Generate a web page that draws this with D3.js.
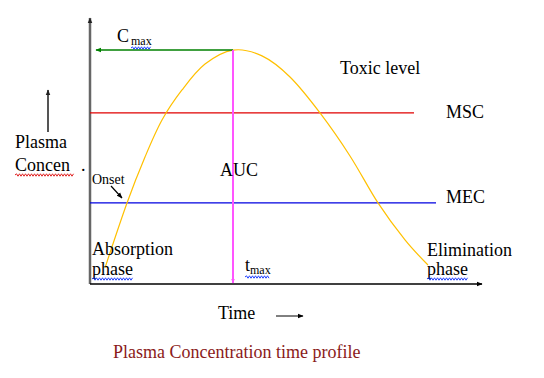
<!DOCTYPE html>
<html><head><meta charset="utf-8">
<script src="https://cdn.jsdelivr.net/npm/d3@7"></script>
<style>
html,body{margin:0;padding:0;background:#fff;}
svg text{font-family:"Liberation Serif","Times New Roman",serif;}
</style></head>
<body><svg id="c" width="544" height="378"></svg>
<script>
// Data (arbitrary units: time 0-100, concentration 0-100)
const time = [3.75, 9.25, 13.75, 18, 23, 28.75, 35.75, 43, 50, 57.5, 65, 72, 78.75, 84.5];
const conc = [6.1, 30.7, 48.1, 62.1, 73.5, 83.3, 88.6, 86.4, 78.4, 64.8, 48.5, 30.7, 16.7, 7.2];
const levelNames = ["MSC", "MEC"];
const levelValues = [64.8, 30.7];
const levelEnds = [81, 86.5];
const cmax = 88.6, tmax = 35.75;

const svg = d3.select("#c");
const x = d3.scaleLinear().domain([0, 100]).range([90, 490]);
const y = d3.scaleLinear().domain([0, 100]).range([284, 20]);

const defs = svg.append("defs");
function marker(id, color, size) {
  defs.append("marker").attr("id", id).attr("viewBox", "0 -5 10 10")
    .attr("refX", 9).attr("refY", 0).attr("markerWidth", size).attr("markerHeight", size)
    .attr("markerUnits", "userSpaceOnUse").attr("orient", "auto")
    .append("path").attr("d", "M0,-4L10,0L0,4Z").attr("fill", color);
}
marker("ablack", "#000", 6);
marker("agreen", "#008000", 6);
marker("apink", "#ff55ff", 5);
marker("agray", "#222", 6);

// axes
svg.append("line").attr("x1", x(0)).attr("x2", x(0)).attr("y1", y(0)).attr("y2", y(100) - 2)
  .attr("stroke", "#666").attr("stroke-width", 2.5).attr("marker-end", "url(#agray)");
svg.append("line").attr("x1", x(0)).attr("x2", x(98)).attr("y1", y(0)).attr("y2", y(0))
  .attr("stroke", "#000").attr("stroke-width", 1.5).attr("marker-end", "url(#ablack)");

// level lines
const levelColors = ["#e00000", "#0000e0"];
levelValues.forEach((v, i) => {
  svg.append("line").attr("x1", x(0)).attr("x2", x(levelEnds[i])).attr("y1", y(v)).attr("y2", y(v))
    .attr("stroke", levelColors[i]).attr("stroke-width", 1.2);
  svg.append("text").attr("x", 446).attr("y", y(v) + (i === 0 ? 5 : 0)).attr("font-size", 18).style("fill", "#000").text(levelNames[i]);
});

// curve
const line = d3.line().x((d, i) => x(time[i])).y((d, i) => y(conc[i])).curve(d3.curveCardinal);
svg.append("path").datum(time).attr("d", line).attr("fill", "none").attr("stroke", "#ffc000").attr("stroke-width", 1.2);

// Cmax arrow
svg.append("line").attr("x1", x(tmax)).attr("x2", x(1.5)).attr("y1", y(cmax)).attr("y2", y(cmax))
  .attr("stroke", "#008000").attr("stroke-width", 1.5).attr("marker-end", "url(#agreen)");
// tmax line
svg.append("line").attr("x1", x(tmax)).attr("x2", x(tmax)).attr("y1", y(cmax)).attr("y2", y(0) - 1)
  .attr("stroke", "#ff55ff").attr("stroke-width", 2).attr("marker-end", "url(#apink)");

// wavy underline
function wavy(x0, x1, yy, color) {
  let d = `M${x0},${yy}`;
  let up = true;
  for (let xx = x0 + 1.5; xx <= x1; xx += 1.5) { d += `L${xx},${yy + (up ? -1.2 : 1.2)}`; up = !up; }
  svg.append("path").attr("d", d).attr("fill", "none").attr("stroke", color).attr("stroke-width", 1);
}

function txt(t, xx, yy, size, color) {
  return svg.append("text").attr("x", xx).attr("y", yy).attr("font-size", size)
    .style("fill", color || "#000").text(t);
}

txt("C", 117, 42, 18);
txt("max", 131, 45, 12);
wavy(131, 151, 48, "#2040ff");
txt("Toxic level", 340, 74, 18);
txt("Plasma", 15, 148, 18);
txt("Concen", 15, 171, 18);
wavy(15, 74, 175, "#e02020");
txt(".", 81, 171, 18);
txt("Onset", 92, 184, 14);
txt("AUC", 220, 176, 18);
txt("Absorption", 92, 255, 18);
txt("phase", 92, 275, 18);
wavy(92, 133, 279, "#2040ff");
txt("t", 245, 271, 18);
txt("max", 250, 274, 12);
wavy(245, 270, 277, "#2040ff");
txt("Elimination", 427, 256, 18);
txt("phase", 427, 275, 18);
wavy(427, 468, 279, "#2040ff");
txt("Time", 218, 319, 18);
txt("Plasma Concentration time profile", 113, 358, 18, "#8b1a1a");

// small arrows
svg.append("line").attr("x1", 48).attr("x2", 48).attr("y1", 132).attr("y2", 90)
  .attr("stroke", "#555").attr("stroke-width", 2).attr("marker-end", "url(#agray)");
svg.append("line").attr("x1", 111).attr("x2", 122).attr("y1", 186).attr("y2", 198)
  .attr("stroke", "#000").attr("stroke-width", 1.2).attr("marker-end", "url(#ablack)");
svg.append("line").attr("x1", 276).attr("x2", 303).attr("y1", 316).attr("y2", 316)
  .attr("stroke", "#000").attr("stroke-width", 1).attr("marker-end", "url(#ablack)");
</script></body></html>
